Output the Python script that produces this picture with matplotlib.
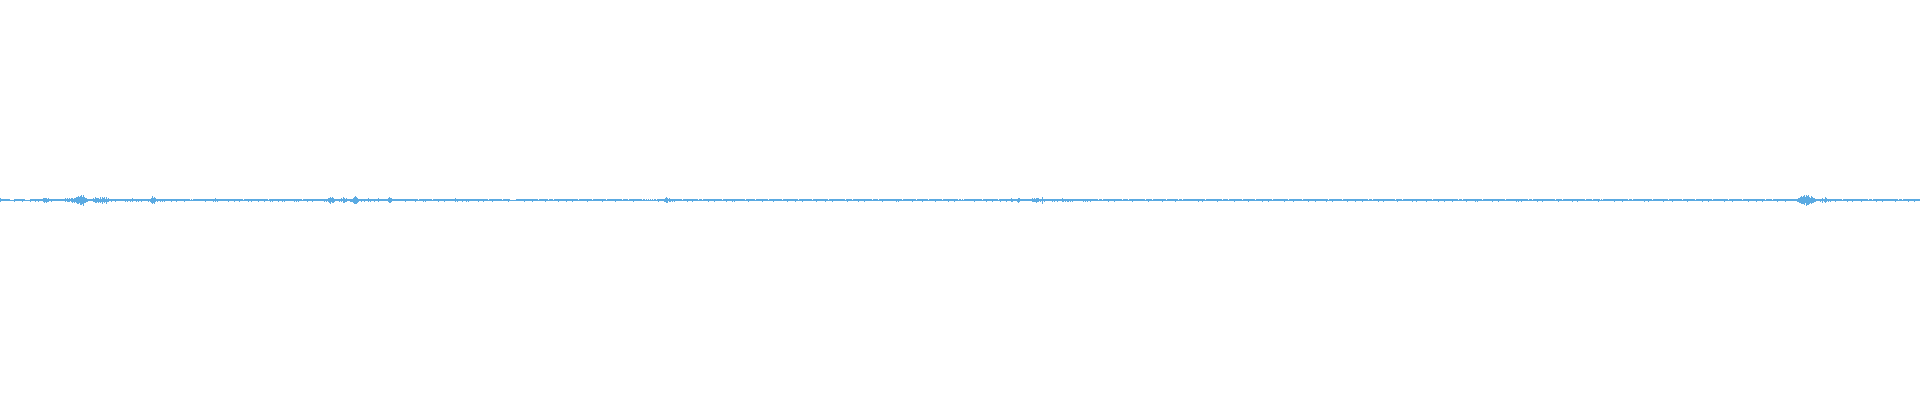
import matplotlib
matplotlib.use("Agg")
import matplotlib.pyplot as plt

# Waveform column heights (px), one hex digit per pixel column
wave_segments = [
    "4222222222", "1111322222", "2232211111", "3222232232", "2224545342",
    "2322222222", "2222242434", "2453546786", "9a7b654322", "2224365453",
    "6374637342", "2322232222", "2222232322", "3242223232", "2322222232",
    "3585742322", "3232322222", "2322223222", "2222322222", "1212222222",
    "2222232222", "2223242322", "2222222232", "2222322223", "2221222232",
    "2322222232", "2222322212", "3232222232", "2232322222", "2222323232",
    "2212222322", "2232222222", "2222323245", "7465322223", "2426534222",
    "3335787532", "2322322242", "3222322242", "2222222246", "5422222222",
    "2222232222", "2222232212", "2223232222", "2212222232", "2222322222",
    "2222242322", "2232223232", "2222222232", "2223222212", "2232222222",
    "2212222232", "1111112222", "2222322222", "2232222212", "2222232212",
    "2221222232", "2222223222", "2232222212", "2222222322", "2212222222",
    "2232221222", "2222232222", "2212222212", "2223222222", "2212212121",
    "2121221232", "2222346524", "3232322222", "2212222322", "2232222212",
    "2212222232", "2222322222", "2212223222", "2232322222", "2222212232",
    "2222212222", "2232222212", "2223222222", "2212222322", "2222232212",
    "2232222222", "2212223222", "2222232212", "2232222222", "2222212322",
    "2212222232", "2222322222", "2212222212", "2232222222", "2222223232",
    "2212222222", "2232221222", "2232222212", "2222232222", "2212222232",
    "2222322212", "2121222222", "2222322222", "2212223222", "2232222212",
    "3222223222", "2432222354", "2222222222", "2243435442", "3272322222",
    "2232322322", "2243232332", "3232222222", "2223232322", "3222222212",
    "2212222232", "2222322222", "2212222212", "2232222222", "2222212232",
    "2212222222", "2232221222", "2222232212", "2212222222", "2222222232",
    "2232212222", "2222222322", "2212222212", "2222322222", "2212222232",
    "2222212222", "2232222232", "2212222222", "2222322212", "2223222222",
    "2212222232", "2222232222", "2222223212", "2232222222", "2212222322",
    "2222232222", "2232222212", "2212222232", "2223222222", "2222212322",
    "2212222222", "2232223222", "2222223222", "2212222232", "2222322222",
    "2232222212", "2212223222", "2222232322", "2212222222", "2232222232",
    "2222212222", "2222223232", "2322222212", "2212222322", "2232222222",
    "2222212232", "2212222222", "2232222322", "2222212222", "2212222232",
    "1212222222", "2222322222", "2232222212", "2212222222", "2222322232",
    "2212222222", "2223222212", "2232222222", "2212222322", "2222212222",
    "2232222232", "2212222222", "2222322212", "2232222222", "2212222232",
    "2222223222", "2232212222", "2212222322", "2222232222", "2222222345",
    "6878a6b9a7", "5865432222", "3252364232", "3222232222", "2212222322",
    "2232222222", "2322222212", "2212223222", "2232222222", "2222232212",
    "2212222232", "2222322222",
]

heights = [int(c, 16) for c in "".join(wave_segments)]
xs = list(range(len(heights)))
center = 200
bottoms = [center - h / 2 for h in heights]

fig = plt.figure(figsize=(19.2, 4), dpi=100)
ax = fig.add_axes([0, 0, 1, 1])
ax.bar(xs, heights, bottom=bottoms, width=1, align="edge",
       color="#5aaae2", linewidth=0, antialiased=False)
ax.set_xlim(0, 1920)
ax.set_ylim(400, 0)
ax.axis("off")
fig.savefig("out.png", dpi=100, facecolor="white")
